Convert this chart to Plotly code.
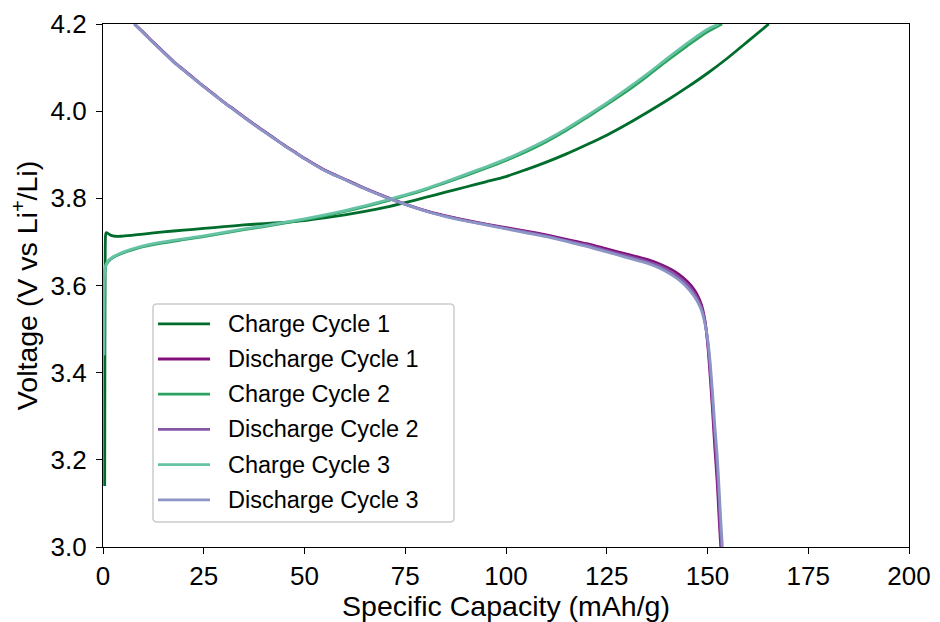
import plotly.graph_objects as go

# ---------------- data ----------------
CHARGE1_X = [0.42, 0.45, 0.48, 0.52, 0.56, 0.62, 0.72, 0.9, 1.3, 2.0, 3.0, 4.5, 7, 10, 15, 20, 25, 30, 35, 40,
             45, 50, 55, 60, 65, 70, 75, 80, 85, 90, 95, 100, 105, 110, 115, 120, 125, 130, 135, 140,
             145, 150, 155, 160, 165.2]
CHARGE1_V = [3.14, 3.30, 3.48, 3.62, 3.69, 3.713, 3.720, 3.721, 3.719, 3.715, 3.713, 3.713, 3.715, 3.718, 3.723,
             3.727, 3.731, 3.735, 3.739, 3.742, 3.745, 3.749, 3.755, 3.762, 3.770, 3.779, 3.790, 3.802, 3.814,
             3.826, 3.838, 3.850, 3.866, 3.883, 3.902, 3.923, 3.945, 3.970, 3.997, 4.025, 4.055, 4.087, 4.122,
             4.160, 4.200]

CHARGE2_X = [0.22, 0.25, 0.28, 0.32, 0.38, 0.5, 0.7, 1.0, 1.5, 2.5, 4, 6, 8, 10, 15, 20, 25, 30, 35, 40, 45,
             50, 55, 60, 65, 70, 75, 80, 85, 90, 95, 100, 105, 110, 115, 120, 125, 130, 135, 140, 145, 150,
             153.6]
CHARGE2_V = [3.44, 3.52, 3.58, 3.61, 3.626, 3.637, 3.645, 3.651, 3.657, 3.664, 3.671, 3.678, 3.684, 3.689,
             3.698, 3.705, 3.712, 3.720, 3.728, 3.735, 3.743, 3.751, 3.760, 3.770, 3.781, 3.793, 3.806, 3.820,
             3.836, 3.852, 3.869, 3.887, 3.907, 3.930, 3.956, 3.985, 4.015, 4.046, 4.080, 4.116, 4.150, 4.182,
             4.200]

CHARGE3_X = [0.22, 0.25, 0.28, 0.32, 0.38, 0.5, 0.7, 1.0, 1.5, 2.5, 4, 6, 8, 10, 15, 20, 25, 30, 35, 40, 45,
             50, 55, 60, 65, 70, 75, 80, 85, 90, 95, 100, 105, 110, 115, 120, 125, 130, 135, 140, 145, 150,
             152.8]
CHARGE3_V = [3.44, 3.53, 3.585, 3.612, 3.628, 3.639, 3.647, 3.653, 3.659, 3.666, 3.673, 3.680, 3.686, 3.691,
             3.700, 3.707, 3.714, 3.722, 3.730, 3.737, 3.745, 3.753, 3.762, 3.772, 3.783, 3.795, 3.808, 3.822,
             3.838, 3.855, 3.872, 3.890, 3.911, 3.934, 3.960, 3.989, 4.019, 4.051, 4.085, 4.121, 4.156, 4.188,
             4.200]

DIS1_X = [7.8, 10, 12.5, 15, 17.5, 20, 22.5, 25, 27.5, 30, 32.5, 35, 37.5, 40, 42.5, 45, 47.5, 50, 55, 60,
          65, 70, 75, 80, 85, 90, 95, 100, 105, 110, 115, 120, 125, 130, 135, 138, 141, 143, 145, 146.5,
          147.5, 148.5, 149.3, 150, 150.6, 151.2, 151.8, 152.4, 152.8, 153.1, 153.3]
DIS1_V = [4.2, 4.181, 4.158, 4.136, 4.114, 4.095, 4.076, 4.057, 4.039, 4.021, 4.004, 3.987, 3.970, 3.954,
          3.938, 3.922, 3.907, 3.892, 3.865, 3.844, 3.823, 3.804, 3.787, 3.772, 3.760, 3.750, 3.741, 3.733,
          3.725, 3.716, 3.706, 3.696, 3.684, 3.672, 3.660, 3.650, 3.637, 3.625, 3.609, 3.593, 3.578, 3.556,
          3.524, 3.470, 3.400, 3.320, 3.230, 3.150, 3.080, 3.030, 3.000]

DIS2_X = [7.8, 10, 12.5, 15, 17.5, 20, 22.5, 25, 27.5, 30, 32.5, 35, 37.5, 40, 42.5, 45, 47.5, 50, 55, 60,
          65, 70, 75, 80, 85, 90, 95, 100, 105, 110, 115, 120, 125, 130, 135, 138, 141, 143, 145, 146.5,
          147.5, 148.5, 149.3, 150, 150.6, 151.2, 151.8, 152.4, 152.9, 153.2, 153.5]
DIS2_V = [4.2, 4.180, 4.157, 4.135, 4.113, 4.094, 4.075, 4.056, 4.038, 4.020, 4.003, 3.986, 3.969, 3.953,
          3.937, 3.921, 3.906, 3.891, 3.864, 3.843, 3.822, 3.803, 3.786, 3.771, 3.759, 3.749, 3.740, 3.731,
          3.723, 3.714, 3.703, 3.693, 3.680, 3.668, 3.655, 3.645, 3.631, 3.618, 3.602, 3.585, 3.570, 3.549,
          3.520, 3.475, 3.415, 3.340, 3.255, 3.180, 3.100, 3.040, 3.000]

DIS3_X = [7.8, 10, 12.5, 15, 17.5, 20, 22.5, 25, 27.5, 30, 32.5, 35, 37.5, 40, 42.5, 45, 47.5, 50, 55, 60,
          65, 70, 75, 80, 85, 90, 95, 100, 105, 110, 115, 120, 125, 130, 135, 138, 141, 143, 145, 146.5,
          147.5, 148.5, 149.3, 150, 150.6, 151.2, 151.8, 152.4, 152.9, 153.3, 153.7]
DIS3_V = [4.2, 4.180, 4.157, 4.135, 4.113, 4.094, 4.075, 4.056, 4.038, 4.020, 4.003, 3.986, 3.969, 3.953,
          3.937, 3.921, 3.906, 3.891, 3.864, 3.843, 3.822, 3.803, 3.786, 3.771, 3.758, 3.748, 3.739, 3.730,
          3.721, 3.712, 3.701, 3.690, 3.677, 3.664, 3.651, 3.640, 3.625, 3.612, 3.595, 3.578, 3.563, 3.543,
          3.515, 3.480, 3.430, 3.360, 3.280, 3.210, 3.130, 3.060, 3.000]

SERIES_NAMES = ["Charge Cycle 1", "Discharge Cycle 1", "Charge Cycle 2",
                "Discharge Cycle 2", "Charge Cycle 3", "Discharge Cycle 3"]
SERIES_COLORS = ["#006d2c", "#810f7c", "#2ca25f", "#8856a7", "#66c2a4", "#8c96c6"]
SERIES_X = [CHARGE1_X, DIS1_X, CHARGE2_X, DIS2_X, CHARGE3_X, DIS3_X]
SERIES_V = [CHARGE1_V, DIS1_V, CHARGE2_V, DIS2_V, CHARGE3_V, DIS3_V]

X_TICKS = [0, 25, 50, 75, 100, 125, 150, 175, 200]
Y_TICKS = [3.0, 3.2, 3.4, 3.6, 3.8, 4.0, 4.2]

# ---------------- figure ----------------
FONT = "Liberation Sans, Arial, Helvetica, sans-serif"
W, H = 940, 622
ML, MR, MT, MB = 103, 31, 24, 75
PW, PH = W - ML - MR, H - MT - MB
LW = 2.8

fig = go.Figure()
for name, xs, vs, col in zip(SERIES_NAMES, SERIES_X, SERIES_V, SERIES_COLORS):
    fig.add_trace(go.Scatter(x=xs, y=vs, mode="lines", name=name,
                             line=dict(color=col, width=LW, shape="spline", smoothing=0.7),
                             showlegend=False))


def px2x(px):
    return (px - ML) / PW


def py2y(py):
    return (H - MB - py) / PH


# manual legend (matplotlib style)
bx0, bx1, by0, by1, r = 153, 454, 304, 522, 4
rx, ry = r / PW, r / PH
X0, X1, Y0, Y1 = px2x(bx0), px2x(bx1), py2y(by1), py2y(by0)
path = (f"M{X0+rx},{Y0} L{X1-rx},{Y0} Q{X1},{Y0} {X1},{Y0+ry} L{X1},{Y1-ry} Q{X1},{Y1} {X1-rx},{Y1} "
        f"L{X0+rx},{Y1} Q{X0},{Y1} {X0},{Y1-ry} L{X0},{Y0+ry} Q{X0},{Y0} {X0+rx},{Y0} Z")
shapes = [dict(type="path", xref="paper", yref="paper", path=path,
               line=dict(color="#cccccc", width=1.5), fillcolor="rgba(255,255,255,0.8)", layer="above")]
annotations = []
for i, (name, col) in enumerate(zip(SERIES_NAMES, SERIES_COLORS)):
    yy = 323.8 + 35.2 * i
    shapes.append(dict(type="line", xref="paper", yref="paper", x0=px2x(158), x1=px2x(210),
                       y0=py2y(yy), y1=py2y(yy), line=dict(color=col, width=LW), layer="above"))
    annotations.append(dict(text=name, xref="paper", yref="paper", x=px2x(226), y=py2y(yy),
                            xanchor="left", yanchor="middle", showarrow=False,
                            font=dict(size=23.5, color="black", family=FONT)))

axis_common = dict(showgrid=False, zeroline=False, showline=True, linecolor="black", linewidth=1.3,
                   mirror=True, ticks="outside", ticklen=6, tickwidth=1.3, tickcolor="black",
                   automargin=False,
                   tickfont=dict(size=26, color="black", family=FONT))

fig.update_layout(
    width=W, height=H,
    margin=dict(l=ML, r=MR, t=MT, b=MB, autoexpand=False),
    paper_bgcolor="white", plot_bgcolor="white",
    font=dict(family=FONT, color="black"),
    shapes=shapes, annotations=annotations,
    xaxis=dict(range=[0, 200], tickvals=X_TICKS, ticktext=[str(v) for v in X_TICKS],
               title=dict(text="Specific Capacity (mAh/g)", font=dict(size=28.5), standoff=2),
               **axis_common),
    yaxis=dict(range=[3.0, 4.2], tickvals=Y_TICKS, ticktext=[f"{v:.1f}" for v in Y_TICKS],
               ticklabelstandoff=4,
               title=dict(text="Voltage (V vs Li<sup>+</sup>/Li)", font=dict(size=28.5), standoff=4),
               **axis_common),
)

fig.write_html("out.html")
